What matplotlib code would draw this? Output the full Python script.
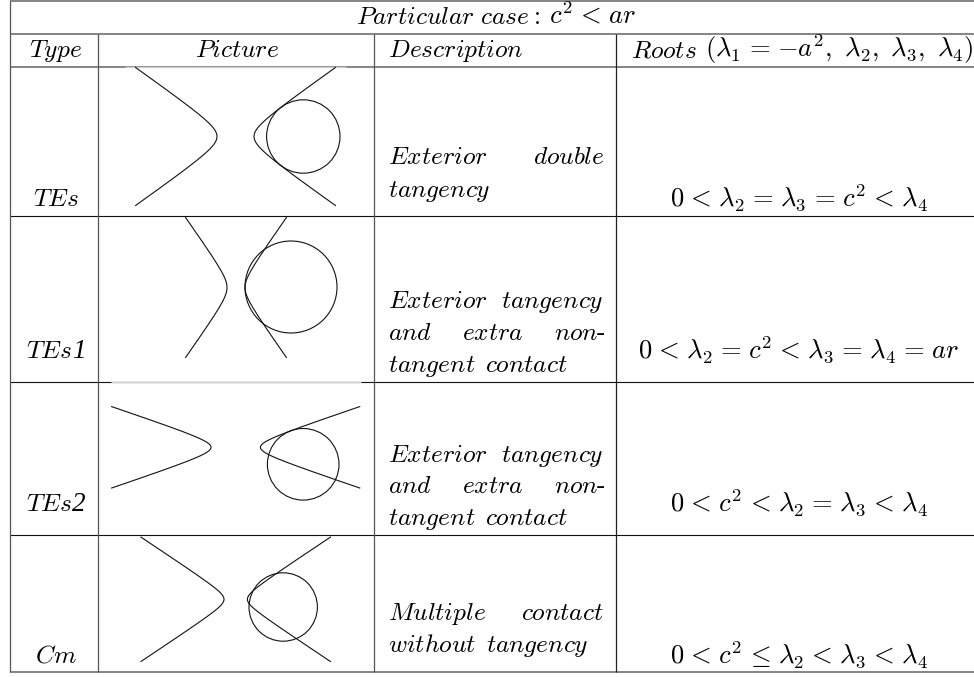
import numpy as np
import matplotlib
matplotlib.use("Agg")
import matplotlib.pyplot as plt
from matplotlib.patches import Circle

plt.rcParams['mathtext.fontset'] = 'cm'

# table grid (pixels of the picture)
col_x = [10, 98, 374, 616]
row_y = [1, 33.5, 66.5, 216, 381.5, 535, 671.5]
dark_rows = [216, 381.5, 535]

types = ['TEs', 'TEs', 'TEs', 'Cm']
type_digits = ['', '1', '2', '']
descriptions = [
    [['Exterior', 'double'], ['tangency']],
    [['Exterior', 'tangency'], ['and', 'extra', 'non-'], ['tangent', 'contact']],
    [['Exterior', 'tangency'], ['and', 'extra', 'non-'], ['tangent', 'contact']],
    [['Multiple', 'contact'], ['without', 'tangency']],
]
roots = [
    r'0<\lambda_2=\lambda_3=c^2<\lambda_4',
    r'0<\lambda_2=c^2<\lambda_3=\lambda_4=ar',
    r'0<c^2<\lambda_2=\lambda_3<\lambda_4',
    r'0<c^2\leq\lambda_2<\lambda_3<\lambda_4',
]

# baselines of the text in each row
type_base = [205.7, 357.7, 510.7, 662.7]
desc_base = [[164, 196.7], [308, 340, 372], [462, 493, 525], [620, 652]]

# hyperbola: centre, semi axes, half height of the branches
hyp_cx = [235.5, 236, 235.7, 235.7]
hyp_cy = [136.5, 287.5, 447.3, 599.3]
hyp_a = [18.5, 9, 24.7, 11.7]
hyp_b = [13, 12.7, 8.27, 7.74]
hyp_h = [69, 70, 40.7, 62.2]

# circles
circ_x = [303.3, 291, 303.2, 283.2]
circ_y = [136.5, 287, 464.3, 607]
circ_r = [36.7, 46, 35.8, 34.2]

# lighter bits of the rules, where the pictures were pasted over them
pale_y = [66.5, 381.5]
pale_x0 = [125, 111]
pale_x1 = [346, 361]

FS = 18.3
FS_MATH = 19.2
DESC_L = 388.5
DESC_R = 604


def it(word):
    return '$\\mathit{' + word + '}$'


def spaced(expr):
    # TeX leaves more room round relations than mathtext does
    for rel in ['<', '=', r'\leq']:
        expr = expr.replace(rel, r'\hspace{0.11}' + rel + r'\hspace{0.11}')
    return '$' + expr + '$'


def hyphen_word(x, y, word):
    # the math italic has no hyphen, so that one goes in as upright text
    t = ax.text(x, y, it(word.rstrip('-')), fontsize=FS, ha='left', va='baseline')
    if word.endswith('-'):
        w = t.get_window_extent(renderer).width
        ax.text(x + w - 1, y, '-', fontsize=FS, family='cmr10', ha='left', va='baseline')


fig = plt.figure(figsize=(9.74, 6.77), dpi=100)
ax = fig.add_axes([0, 0, 1, 1])
ax.set_xlim(0, 974)
ax.set_ylim(677, 0)
ax.axis('off')
fig.canvas.draw()
renderer = fig.canvas.get_renderer()

# grid
for y in row_y:
    if y in dark_rows:
        ax.plot([col_x[0], 974], [y, y], color='#111111', lw=0.8, solid_capstyle='butt')
    else:
        ax.plot([col_x[0], 974], [y, y], color='#707070', lw=1.2, solid_capstyle='butt')
for i, x in enumerate(col_x):
    y0 = row_y[0] if i == 0 else row_y[1]
    color = '#222222' if i == 3 else '#555555'
    ax.plot([x, x], [y0, row_y[-1]], color=color, lw=0.9, solid_capstyle='butt')
for y, x0, x1 in zip(pale_y, pale_x0, pale_x1):
    ax.plot([x0, x1], [y, y], color='#d0d0d0', lw=1.0, solid_capstyle='butt')

# pictures
for i in range(4):
    tmax = np.arcsinh(hyp_h[i] / hyp_b[i])
    t = np.linspace(-tmax, tmax, 200)
    for side in (-1, 1):
        ax.plot(hyp_cx[i] + side * hyp_a[i] * np.cosh(t), hyp_cy[i] + hyp_b[i] * np.sinh(t),
                color='#111111', lw=0.8)
    ax.add_patch(Circle((circ_x[i], circ_y[i]), circ_r[i], fill=False, ec='#111111', lw=0.8))

# title and header
ax.text(356, 24, it(r'Particular\ case'), fontsize=FS, ha='left', va='baseline')
ax.text(534, 24, ':', fontsize=FS, family='cmr10', ha='left', va='baseline')
ax.text(549, 24, spaced('c^2<ar'), fontsize=FS_MATH, ha='left', va='baseline')
ax.text(55.7, 57, it('Type'), fontsize=FS, ha='center', va='baseline')
ax.text(236.7, 57, it('Picture'), fontsize=FS, ha='center', va='baseline')
ax.text(DESC_L, 57, it('Description'), fontsize=FS, ha='left', va='baseline')
ax.text(631, 57, it('Roots'), fontsize=FS, ha='left', va='baseline')
ax.text(705, 57, r'$(\lambda_1\hspace{0.11}=\hspace{0.11}{-}a^2,\ \lambda_2,\ \lambda_3,\ \lambda_4)$',
        fontsize=FS_MATH, ha='left', va='baseline')

for i in range(4):
    if type_digits[i]:
        # letters and digit come from two fonts
        label = ax.text(26.5, type_base[i], it(types[i]), fontsize=FS, ha='left', va='baseline')
        w = label.get_window_extent(renderer).width
        ax.text(26.5 + w - 1, type_base[i], type_digits[i], fontsize=FS + 1.2, family='Liberation Serif',
                style='italic', ha='left', va='baseline')
    else:
        ax.text(55.7, type_base[i], it(types[i]), fontsize=FS, ha='center', va='baseline')
    ax.text(798.5, type_base[i] + 1, spaced(roots[i]), fontsize=FS_MATH, ha='center', va='baseline')
    # justified lines of the description column
    for words, base in zip(descriptions[i], desc_base[i]):
        free = words[0] in ('tangent', 'without', 'tangency')
        sizes = []
        for w in words:
            probe = ax.text(0, 0, it(w.rstrip('-')), fontsize=FS)
            sizes.append(probe.get_window_extent(renderer).width)
            probe.remove()
        hyphen = 6 if words[-1].endswith('-') else 0
        gap = 9 if free or len(words) == 1 else (DESC_R - DESC_L - sum(sizes) - hyphen) / (len(words) - 1)
        x = DESC_L
        for w, size in zip(words, sizes):
            hyphen_word(x, base, w)
            x += size + gap

fig.savefig('out.png', dpi=100)
